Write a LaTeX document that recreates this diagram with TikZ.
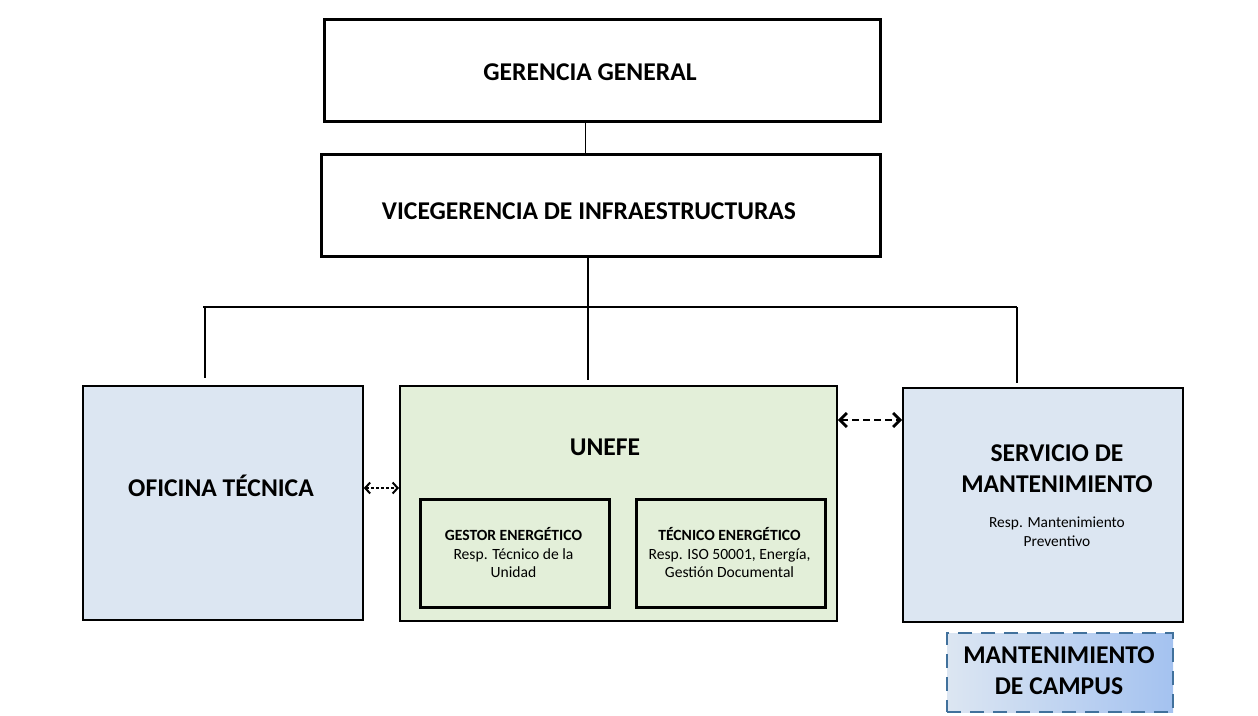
\documentclass[tikz,border=0pt]{standalone}
\usepackage{fontspec}
\setmainfont{Carlito}
\usepackage{xcolor}
\usetikzlibrary{positioning,arrows.meta,calc}

\definecolor{boxblue}{HTML}{DCE6F2}
\definecolor{boxgreen}{HTML}{E3EFD9}
\definecolor{campusline}{HTML}{41719C}
\definecolor{campusdark}{HTML}{A4C2F0}

\begin{document}
\begin{tikzpicture}[x=1pt, y=-1pt, >=Stealth,
  head/.style={draw, line width=2.6pt, minimum width=556pt, minimum height=102pt, anchor=north west, inner sep=0pt},
  unit/.style={draw, line width=1.8pt, minimum width=280pt, minimum height=234pt, anchor=north west, inner sep=0pt},
  role/.style={draw, line width=2.8pt, fill=boxgreen, minimum width=189pt, minimum height=108pt, anchor=north west, inner sep=0pt},
  big/.style={font=\fontsize{25.6}{31}\selectfont\bfseries, align=center},
  small/.style={font=\fontsize{15.6}{18.5}\selectfont, align=center},
  link/.style={line width=2pt, dashed, dash pattern=on 5pt off 3pt, {Straight Barb[length=5pt,width=10pt,line width=2pt]}-{Straight Barb[length=5pt,width=10pt,line width=2pt]}}]
  \useasboundingbox (0,0) rectangle (1258,715);
  % top of the tree
  \node[head] (gg) at (323,18) {};
  \node[big] (ggtxt) at (590,72) {GERENCIA GENERAL};
  \node[head, minimum width=559pt] (vg) at (320,153) {};
  \node[big] (vgtxt) at (589,211) {VICEGERENCIA DE INFRAESTRUCTURAS};
  % the three units
  \node[unit, fill=boxblue] (ofi) at (82,385) {};
  \node[big] (ofitxt) at (221,486) {OFICINA TÉCNICA};
  \node[unit, fill=boxgreen, minimum width=437pt, minimum height=235pt] (unefe) at (399,385) {};
  \node[big] (unefetxt) at (605,447) {UNEFE};
  \node[role] (gestor) at (419,498) {};
  \node[small, anchor=north] (gestortxt) at (513.5,524) {\textbf{GESTOR ENERGÉTICO}\\Resp. Técnico de la\\Unidad};
  \node[role] (tecnico) at (635,498) {};
  \node[small, anchor=north] (tecnicotxt) at (729.5,524) {\textbf{TÉCNICO ENERGÉTICO}\\Resp. ISO 50001, Energía,\\Gestión Documental};
  \node[unit, fill=boxblue] (serv) at (902,387) {};
  \node[big] (servtxt) at (1057,469) {SERVICIO DE\\MANTENIMIENTO};
  \node[small, font=\fontsize{15.4}{19}\selectfont] (servsub) at (1057,532) {Resp. Mantenimiento\\Preventivo};
  \node[draw=campusline, line width=2pt, dash pattern=on 14pt off 9pt, left color=boxblue, right color=campusdark,
    minimum width=226pt, minimum height=79pt, anchor=north west, inner sep=0pt] (campus) at (946,632) {};
  \node[big] (campustxt) at (1059,671) {MANTENIMIENTO\\DE CAMPUS};
  % connectors
  \draw[line width=1pt] (585,120) -- (585,153);
  \coordinate (barl) at (203,307);
  \coordinate (barr) at (1017,307);
  \draw[line width=2.6pt] (588,255) -- (588,380);
  \draw[line width=2pt] (barl) -- (barr);
  \draw[line width=1.6pt] (205,307) -- (205,378);
  \draw[line width=1.6pt] (barr) -- (1017,383);
  \draw[link, line width=2pt, dash pattern=on 3pt off 2pt, {Straight Barb[length=5pt,width=11pt,line width=2pt]}-{Straight Barb[length=5pt,width=11pt,line width=2pt]}] (ofi.east |- 0,488) -- (unefe.west |- 0,488);
  \draw[link, line width=2.8pt, dash pattern=on 7pt off 4pt, {Straight Barb[length=7pt,width=14pt,line width=2.8pt]}-{Straight Barb[length=7pt,width=14pt,line width=2.8pt]}] (unefe.east |- 0,420) -- (serv.west |- 0,420);
\end{tikzpicture}
\end{document}
